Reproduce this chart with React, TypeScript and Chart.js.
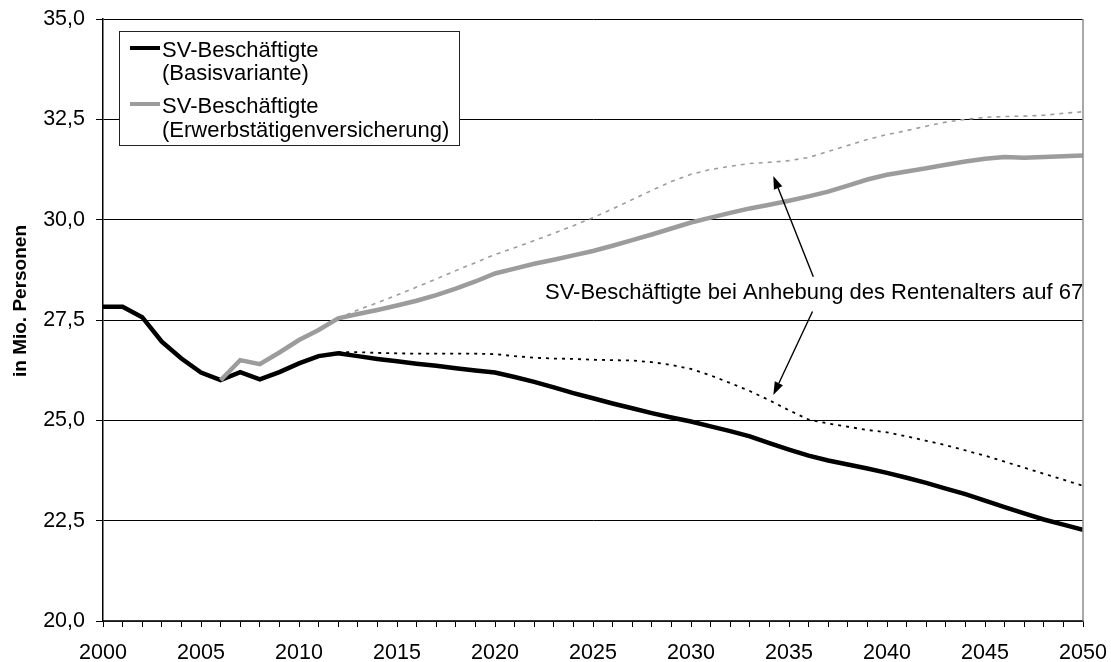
import React, { useEffect, useRef } from "react";
import { Chart, registerables } from "chart.js";

Chart.register(...registerables);

const years: number[] = [];
for (let y = 2000; y <= 2050; y++) years.push(y);

const basis: (number | null)[] = [
  27.83, 27.83, 27.57, 26.96, 26.54, 26.19, 26.0, 26.2, 26.02, 26.2, 26.42, 26.6, 26.67,
  26.6, 26.53, 26.47, 26.41, 26.36, 26.3, 26.24, 26.19,
  26.08, 25.96, 25.82, 25.68, 25.55, 25.42, 25.3, 25.18, 25.07, 24.97,
  24.85, 24.73, 24.6, 24.43, 24.27, 24.12, 24.0, 23.9, 23.8, 23.69,
  23.57, 23.44, 23.3, 23.16, 23.0, 22.84, 22.68, 22.53, 22.4, 22.27,
];

const basis67: (number | null)[] = [
  null, null, null, null, null, null, null, null, null, null, null, null,
  26.7, 26.7, 26.68, 26.67, 26.66, 26.66, 26.66, 26.66, 26.65,
  26.6, 26.56, 26.54, 26.53, 26.51, 26.5, 26.49, 26.45, 26.38, 26.28,
  26.12, 25.93, 25.73, 25.5, 25.25, 25.02, 24.92, 24.84, 24.76, 24.7,
  24.6, 24.49, 24.38, 24.25, 24.12, 23.97, 23.82, 23.67, 23.52, 23.37,
];

const erw: (number | null)[] = [
  null, null, null, null, null, null,
  26.0, 26.5, 26.4, 26.69, 27.0, 27.25, 27.54,
  27.65, 27.75, 27.86, 27.98, 28.12, 28.28, 28.46, 28.66,
  28.78, 28.9, 29.0, 29.11, 29.22, 29.35, 29.49, 29.63, 29.78, 29.93,
  30.05, 30.17, 30.28, 30.37, 30.47, 30.58, 30.7, 30.85, 31.0, 31.12,
  31.2, 31.28, 31.37, 31.45, 31.52, 31.56, 31.54, 31.56, 31.58, 31.6,
];

const erw67: (number | null)[] = [
  null, null, null, null, null, null, null, null, null, null, null, null,
  27.54, 27.75, 27.93, 28.12, 28.32, 28.52, 28.73, 28.93, 29.13,
  29.3, 29.48, 29.66, 29.85, 30.05, 30.27, 30.5, 30.73, 30.95, 31.13,
  31.25, 31.33, 31.4, 31.43, 31.47, 31.55, 31.7, 31.85, 32.0, 32.12,
  32.22, 32.33, 32.43, 32.5, 32.55, 32.57, 32.58, 32.6, 32.65, 32.69,
];

const legendLabels: string[][] = [
  ["SV-Beschäftigte", "(Basisvariante)"],
  ["SV-Beschäftigte", "(Erwerbstätigenversicherung)"],
];
const yTitle = "in Mio. Personen";
const noteText = "SV-Beschäftigte bei Anhebung des Rentenalters auf 67";
// annotation anchor positions in data units [year, value]
const noteTextPos = [2022.55, 28.02];
const arrowUp = [[2036.24, 28.58], [2034.2, 31.09]];
const arrowDown = [[2036.2, 27.71], [2034.2, 25.63]];

const BLACK = "#000000";
const GREY = "#9c9c9c";
const FONT = '"Liberation Sans", Arial, sans-serif';

const toPts = (arr: (number | null)[]) =>
  years.map((yr, i) => ({ x: yr, y: arr[i] })).filter((p) => p.y !== null) as { x: number; y: number }[];

function drawArrow(ctx: CanvasRenderingContext2D, x1: number, y1: number, x2: number, y2: number) {
  ctx.save();
  ctx.strokeStyle = "#000";
  ctx.fillStyle = "#000";
  ctx.lineWidth = 1.4;
  const ang = Math.atan2(y2 - y1, x2 - x1);
  const len = 13;
  const hw = 4.5;
  const bx = x2 - len * Math.cos(ang);
  const by = y2 - len * Math.sin(ang);
  ctx.beginPath();
  ctx.moveTo(x1, y1);
  ctx.lineTo(bx, by);
  ctx.stroke();
  ctx.beginPath();
  ctx.moveTo(x2, y2);
  ctx.lineTo(bx + hw * Math.sin(ang), by - hw * Math.cos(ang));
  ctx.lineTo(bx - hw * Math.sin(ang), by + hw * Math.cos(ang));
  ctx.closePath();
  ctx.fill();
  ctx.restore();
}

const zeroPad = (s: any) => {
  s.paddingLeft = 0;
  s.paddingRight = 0;
  s.paddingTop = 0;
  s.paddingBottom = 0;
};

const decorPlugin = {
  id: "decor",
  afterDraw(chart: any) {
    const { ctx, chartArea, scales } = chart;
    const xs = scales.x;
    const ys = scales.y;
    ctx.save();
    // right border
    ctx.strokeStyle = "#8c8c8c";
    ctx.lineWidth = 1.5;
    ctx.beginPath();
    ctx.moveTo(chartArea.right, chartArea.top);
    ctx.lineTo(chartArea.right, chartArea.bottom);
    ctx.stroke();

    // y title
    ctx.save();
    ctx.translate(21, (chartArea.top + chartArea.bottom) / 2 - 19);
    ctx.rotate(-Math.PI / 2);
    ctx.font = `bold 19px ${FONT}`;
    ctx.fillStyle = "#000";
    ctx.textAlign = "center";
    ctx.textBaseline = "middle";
    ctx.fillText(yTitle, 0, 0);
    ctx.restore();

    // legend box
    const lx = chartArea.left + 16;
    const ly = chartArea.top + 12;
    const lw = 340;
    const lh = 114;
    ctx.fillStyle = "#fff";
    ctx.fillRect(lx, ly, lw, lh);
    ctx.strokeStyle = "#222";
    ctx.lineWidth = 1;
    ctx.strokeRect(lx + 0.5, ly + 0.5, lw, lh);
    const colors = [BLACK, GREY];
    const rows = [
      [ly + 17, ly + 26, ly + 49],
      [ly + 73, ly + 82, ly + 106],
    ];
    ctx.font = `22px ${FONT}`;
    ctx.textAlign = "left";
    ctx.textBaseline = "alphabetic";
    legendLabels.forEach((lines, i) => {
      ctx.strokeStyle = colors[i];
      ctx.lineWidth = 4;
      ctx.beginPath();
      ctx.moveTo(lx + 11, rows[i][0]);
      ctx.lineTo(lx + 41, rows[i][0]);
      ctx.stroke();
      ctx.fillStyle = "#000";
      ctx.fillText(lines[0], lx + 43, rows[i][1]);
      ctx.fillText(lines[1], lx + 43, rows[i][2]);
    });

    // annotation
    ctx.font = `22px ${FONT}`;
    ctx.fillStyle = "#000";
    ctx.textAlign = "left";
    ctx.textBaseline = "alphabetic";
    ctx.fillText(noteText, xs.getPixelForValue(noteTextPos[0]), ys.getPixelForValue(noteTextPos[1]));
    for (const a of [arrowUp, arrowDown]) {
      drawArrow(
        ctx,
        xs.getPixelForValue(a[0][0]),
        ys.getPixelForValue(a[0][1]),
        xs.getPixelForValue(a[1][0]),
        ys.getPixelForValue(a[1][1])
      );
    }
    ctx.restore();
  },
};

export default function App() {
  const ref = useRef<HTMLCanvasElement | null>(null);
  useEffect(() => {
    if (!ref.current) return;
    const chart = new Chart(ref.current, {
      type: "line",
      data: {
        datasets: [
          {
            label: "SV-Beschäftigte bei Anhebung (Erwerbstätigenversicherung)",
            data: toPts(erw67),
            borderColor: GREY,
            borderWidth: 1.6,
            borderDash: [4, 5],
            pointRadius: 0,
            tension: 0,
          },
          {
            label: "SV-Beschäftigte bei Anhebung (Basisvariante)",
            data: toPts(basis67),
            borderColor: BLACK,
            borderWidth: 1.8,
            borderDash: [3, 5],
            pointRadius: 0,
            tension: 0,
          },
          {
            label: "SV-Beschäftigte (Erwerbstätigenversicherung)",
            data: toPts(erw),
            borderColor: GREY,
            borderWidth: 4.5,
            pointRadius: 0,
            tension: 0,
          },
          {
            label: "SV-Beschäftigte (Basisvariante)",
            data: toPts(basis),
            borderColor: BLACK,
            borderWidth: 4.5,
            pointRadius: 0,
            tension: 0,
          },
        ],
      },
      options: {
        animation: false,
        responsive: true,
        maintainAspectRatio: false,
        layout: { padding: { top: 19, right: 28, bottom: 0, left: 0 } },
        plugins: { legend: { display: false }, tooltip: { enabled: false } },
        scales: {
          x: {
            type: "linear",
            min: 2000,
            max: 2050,
            afterFit: (s: any) => {
              s.height = 41;
              zeroPad(s);
            },
            ticks: {
              stepSize: 1,
              autoSkip: false,
              maxTicksLimit: 100,
              maxRotation: 0,
              padding: 13,
              color: "#000",
              font: { family: FONT, size: 21.5 },
              callback: (v: any) => (Number(v) % 5 === 0 ? String(v) : ""),
            },
            grid: { drawOnChartArea: false, drawTicks: true, tickLength: 6, color: "#000" },
            border: { display: true, color: "#333", width: 1.5 },
          },
          y: {
            min: 20,
            max: 35,
            afterFit: (s: any) => {
              s.width = 103;
              zeroPad(s);
            },
            ticks: {
              stepSize: 2.5,
              padding: 11,
              color: "#000",
              font: { family: FONT, size: 21.5 },
              callback: (v: any) => Number(v).toFixed(1).replace(".", ","),
            },
            grid: { color: "#000", lineWidth: 1, tickLength: 7 },
            border: { display: true, color: "#000", width: 1.5 },
          },
        },
      },
      plugins: [decorPlugin],
    });
    return () => chart.destroy();
  }, []);
  return (
    <div style={{ position: "fixed", left: 0, top: 0, width: 1111, height: 662, background: "#fff" }}>
      <canvas ref={ref} />
    </div>
  );
}
